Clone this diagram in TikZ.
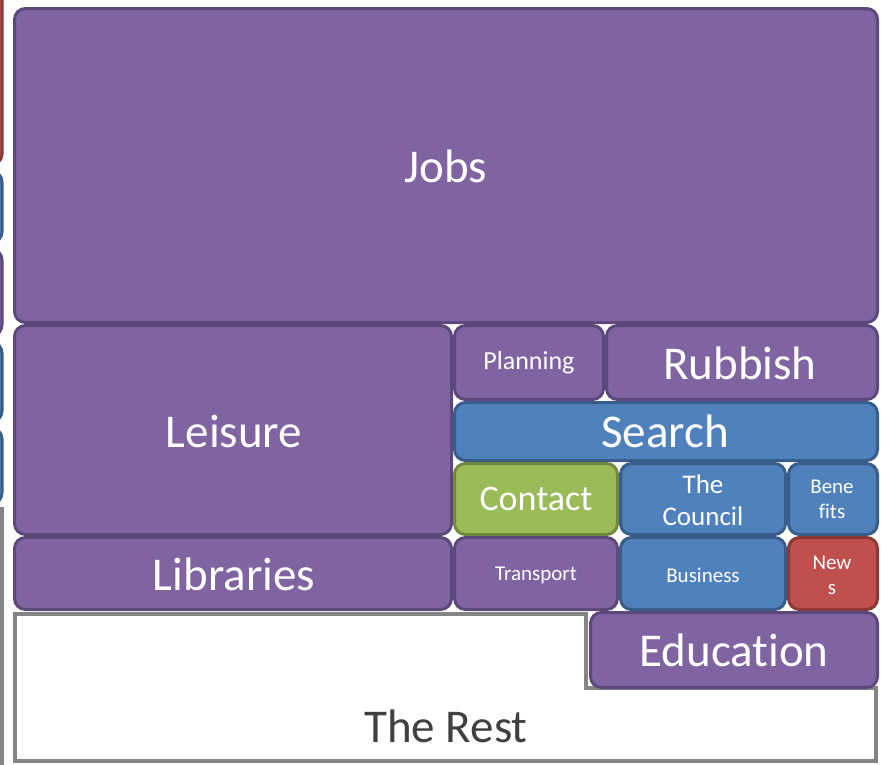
\documentclass[tikz,border=0pt]{standalone}
\usepackage{fontspec}
\setmainfont{Carlito}[Ligatures={NoCommon}]
\usepackage{xcolor}
\definecolor{tilepurple}{RGB}{128,100,162}
\definecolor{edgepurple}{RGB}{92,72,122}
\definecolor{tileblue}{RGB}{79,129,189}
\definecolor{edgeblue}{RGB}{56,93,138}
\definecolor{tilegreen}{RGB}{155,187,89}
\definecolor{edgegreen}{RGB}{113,137,63}
\definecolor{tilered}{RGB}{192,80,77}
\definecolor{edgered}{RGB}{140,56,54}
\definecolor{restgray}{RGB}{132,132,132}
\definecolor{resttext}{RGB}{64,64,64}

\tikzset{
    tile/.style={rounded corners=11pt, line width=3pt},
    purpletile/.style={tile, fill=tilepurple, draw=edgepurple},
    bluetile/.style={tile, fill=tileblue, draw=edgeblue},
    greentile/.style={tile, fill=tilegreen, draw=edgegreen},
    redtile/.style={tile, fill=tilered, draw=edgered},
    biglabel/.style={text=white, font=\fontsize{47}{52}\selectfont},
    midlabel/.style={text=white, align=center, font=\fontsize{27}{32}\selectfont},
    smalllabel/.style={text=white, align=center, font=\fontsize{21}{25}\selectfont}
}

\begin{document}
\begin{tikzpicture}[x=1pt, y=-1pt]
    \useasboundingbox (0,0) rectangle (883,764);
    \clip (0,0) rectangle (883,764);
    % cut-off tiles on the left edge
    \draw[redtile] (-100,-20) rectangle (2,165);
    \draw[bluetile] (-100,171) rectangle (2,243);
    \draw[purpletile] (-100,249) rectangle (2,336);
    \draw[bluetile] (-100,342) rectangle (2,422);
    \draw[bluetile] (-100,428) rectangle (2,504);
    \draw[restgray, line width=3.5pt, fill=white] (-100,509) rectangle (2,800);
    % the tiles
    \draw[purpletile] (14.5,8.5) rectangle (877.5,322.5);
    \node[biglabel] (jobs) at (446,166) {Jobs};
    \draw[purpletile] (14.5,325.5) rectangle (451.5,534.5);
    \node[biglabel] (leisure) at (234,431) {Leisure};
    \draw[purpletile] (14.5,537.5) rectangle (451.5,609.5);
    \node[biglabel] (libraries) at (234,574) {Libraries};
    \draw[purpletile] (454.5,325.5) rectangle (603.5,399.5);
    \node[midlabel, font=\fontsize{26}{30}\selectfont] (planning) at (529,363) {Planning};
    \draw[purpletile] (606.5,325.5) rectangle (877.5,399.5);
    \node[biglabel] (rubbish) at (740,363) {Rubbish};
    \draw[bluetile] (454.5,402.5) rectangle (877.5,460.5);
    \node[biglabel] (search) at (665,431) {Search};
    \draw[greentile] (454.5,463.5) rectangle (617.5,534.5);
    \node[biglabel, font=\fontsize{36}{40}\selectfont] (contact) at (536,499) {Contact};
    \draw[bluetile] (620.5,463.5) rectangle (785.5,534.5);
    \node[midlabel] (council) at (703,500) {The\\Council};
    \draw[bluetile] (788.5,463.5) rectangle (877.5,534.5);
    \node[smalllabel] (benefits) at (832,499) {Bene\\fits};
    \draw[purpletile] (454.5,537.5) rectangle (617.5,609.5);
    \node[smalllabel] (transport) at (536,575) {Transport};
    \draw[bluetile] (620.5,537.5) rectangle (785.5,609.5);
    \node[smalllabel] (business) at (703,575) {Business};
    \draw[redtile] (788.5,537.5) rectangle (877.5,609.5);
    \node[smalllabel] (news) at (832,575) {New\\s};
    % the rest, round the education tile
    \draw[restgray, line width=3.5pt, fill=white] (15,614) -- (586,614) -- (586,688)
        -- (876,688) -- (876,761) -- (15,761) -- cycle;
    \node[biglabel, text=resttext] (rest) at (446,726) {The Rest};
    \draw[purpletile] (590.5,612.5) rectangle (877.5,687.5);
    \node[biglabel] (education) at (734,650) {Education};
\end{tikzpicture}
\end{document}
